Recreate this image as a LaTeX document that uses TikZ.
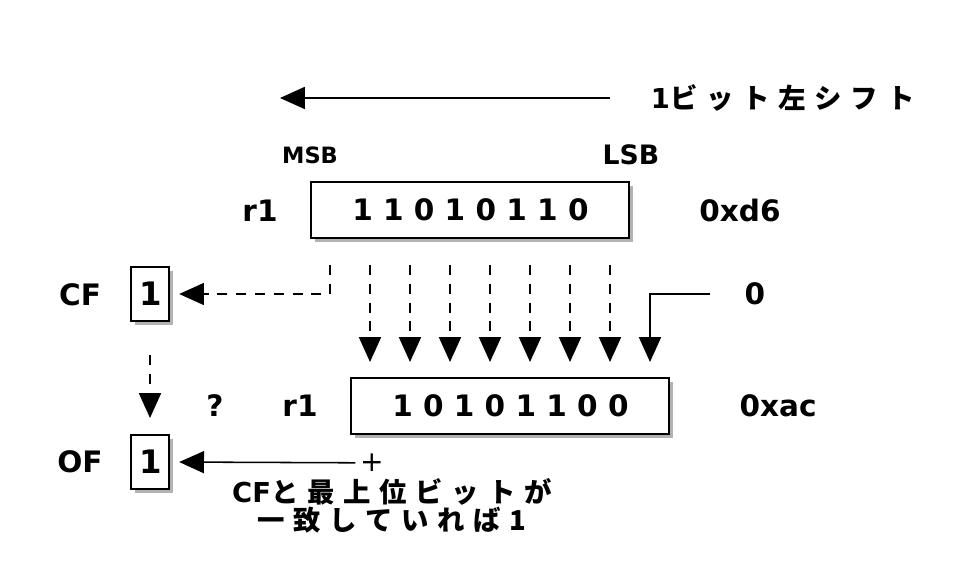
\documentclass[tikz,border=0pt]{standalone}
\usepackage{fontspec}
\setmainfont{DejaVu Sans}
\newfontfamily\jp{Noto Sans CJK JP}[LetterSpace=32]
\usetikzlibrary{arrows.meta,shadows}

\tikzset{
  reg/.style={draw, line width=1.4pt, fill=white, inner sep=2pt,
    drop shadow={shadow xshift=0.1cm, shadow yshift=-0.1cm, fill=black!50, opacity=0.6}},
  lbl/.style={font=\fontsize{21}{24}\selectfont\bfseries},
  jtext/.style={font=\fontsize{19.5}{20}\selectfont\bfseries},
  arr/.style={line width=1.1pt, -{Triangle[width=0.55cm,length=0.62cm]}},
  dasharr/.style={arr, dash pattern=on 0.25cm off 0.22cm},
}

\begin{document}
\begin{tikzpicture}
  \useasboundingbox (0,0) rectangle (24.5,-14.7);
  \fill[white] (0,0) rectangle (24.5,-14.7);

  \begin{scope}[every node/.style={reg, lbl}]
    \node[minimum width=7.95cm, minimum height=1.38cm] (before) at (11.76,-5.25) {1 1 0 1 0 1 1 0};
    \node[minimum width=7.95cm, minimum height=1.38cm] (after) at (12.76,-10.15) {1 0 1 0 1 1 0 0};
    \node[minimum width=0.95cm, minimum height=1.33cm, font=\fontsize{23}{26}\selectfont\bfseries] (cf) at (3.76,-7.35) {1};
    \node[minimum width=0.95cm, minimum height=1.33cm, font=\fontsize{23}{26}\selectfont\bfseries] (of) at (3.76,-11.55) {1};
  \end{scope}

  \begin{scope}[every node/.style={lbl}]
    \node (r1before) at (6.5,-5.27) {r1};
    \node (hexbefore) at (18.5,-5.27) {0xd6};
    \node (r1after) at (7.5,-10.15) {r1};
    \node (hexafter) at (19.45,-10.15) {0xac};
    \node (cflbl) at (2.0,-7.37) {CF};
    \node (oflbl) at (2.0,-11.55) {OF};
    \node (zero) at (18.875,-7.35) {0};
    \node (qmark) at (5.375,-10.15) {?};
  \end{scope}
  \node[font=\fontsize{16}{18}\selectfont\bfseries] (msb) at (7.75,-3.875) {MSB};
  \node[font=\fontsize{19}{22}\selectfont\bfseries] (lsb) at (15.775,-3.875) {LSB};
  \node[font=\fontsize{20}{22}\selectfont] (plus) at (9.3,-11.57) {+};

  \node[jtext, anchor=west] (shift) at (16.15,-2.45) {1{\jp ビット左シフト}};
  \node[jtext, align=center] (note) at (9.8,-12.64) {CF{\jp と最上位ビットが}\\{\jp 一致していれば1}};

  % shift direction
  \coordinate (s0) at (15.25,-2.45);
  \coordinate (s1) at (7.0,-2.45);
  \draw[arr] (s0) -- (s1);

  % bits moving one place left
  \coordinate (b0) at (8.25,-6.625);
  \draw[dasharr, shorten >=0.22cm] (b0) |- (cf.east);
  \foreach \i in {1,...,7} {
    \coordinate (t\i) at (8.25+\i,-6.625);
    \coordinate (h\i) at (8.25+\i,-9.05);
    \draw[dasharr] (t\i) -- (h\i);
  }
  \coordinate (z0) at (17.75,-7.35);
  \coordinate (z1) at (16.25,-9.05);
  \draw[arr] (z0) -| (z1);

  % flags
  \coordinate (c0) at (3.75,-8.875);
  \coordinate (c1) at (3.75,-10.45);
  \draw[dasharr] (c0) -- (c1);
  \draw[arr, shorten >=0.22cm] (plus.west) -- (of.east);
\end{tikzpicture}
\end{document}
